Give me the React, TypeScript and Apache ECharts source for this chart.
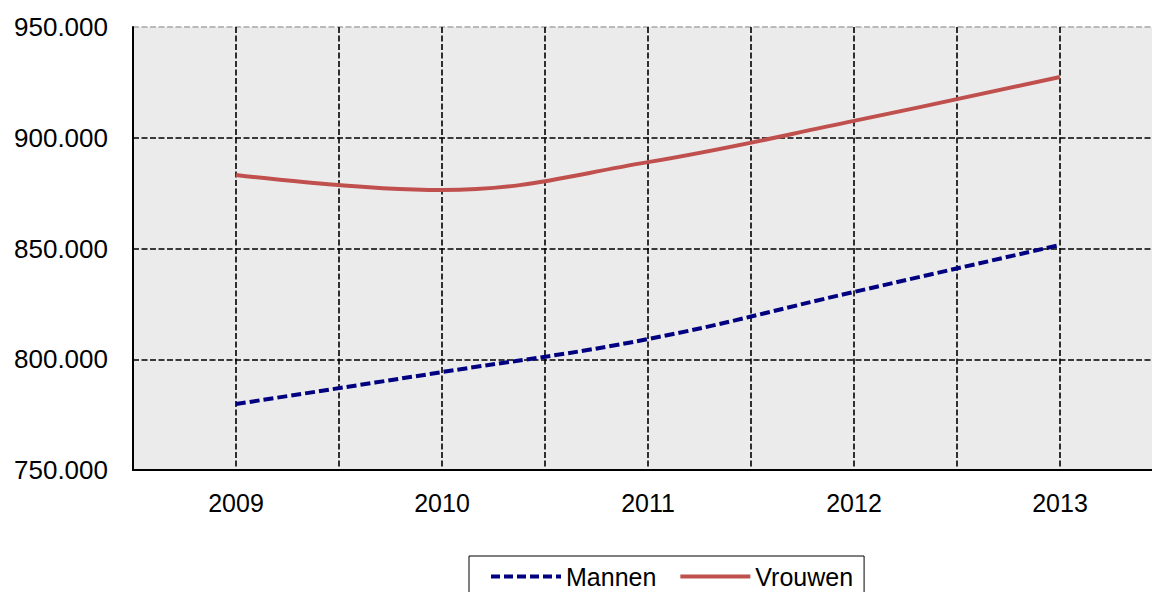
import React, { useEffect, useRef } from "react";
import * as echarts from "echarts";

const years = [2009, 2010, 2011, 2012, 2013];
const mannen = [779800, 794200, 809100, 830400, 851600];
const vrouwen = [883200, 876400, 889000, 907600, 927400];
const seriesNames = ["Mannen", "Vrouwen"];

const fmt = (v: number) => {
  const s = Math.round(v).toString();
  return s.replace(/\B(?=(\d{3})+(?!\d))/g, ".");
};

export default function App() {
  const ref = useRef<HTMLDivElement>(null);
  useEffect(() => {
    if (!ref.current) return;
    const chart = echarts.init(ref.current, null, { renderer: "svg" });
    const font = "Liberation Sans, Arial, sans-serif";
    chart.setOption({
      animation: false,
      textStyle: { fontFamily: font },
      grid: {
        left: 133,
        top: 27,
        height: 443,
        width: 1030,
        show: true,
        backgroundColor: "#ebebeb",
        borderWidth: 0,
        outerBoundsMode: "none",
      },
      legend: {
        data: [
          { name: seriesNames[0], lineStyle: { width: 4, type: [9, 4] } },
          { name: seriesNames[1], lineStyle: { width: 4 } },
        ],
        left: 469,
        top: 556,
        width: 393,
        borderColor: "#000",
        borderWidth: 1,
        borderRadius: 0,
        padding: [8, 11, 20, 20],
        itemWidth: 70,
        itemHeight: 14,
        itemGap: 22,
        itemStyle: { opacity: 0 },
        textStyle: { fontSize: 25, color: "#000", fontFamily: font },
      },
      xAxis: {
        type: "value",
        min: 2008.5,
        max: 2013.5,
        interval: 0.5,
        axisLine: { show: true, lineStyle: { color: "#000", width: 2 } },
        axisTick: { show: false },
        axisLabel: {
          fontSize: 25,
          color: "#000",
          margin: 20,
          fontFamily: font,
          formatter: (v: number) => (Number.isInteger(v) ? String(v) : ""),
          showMinLabel: true,
          showMaxLabel: true,
        },
        splitLine: {
          show: true,
          lineStyle: { color: "#000", type: [6, 2.5], width: 1.6 },
        },
      },
      yAxis: {
        type: "value",
        min: 750000,
        max: 950000,
        interval: 50000,
        axisLine: { show: true, lineStyle: { color: "#000", width: 2 } },
        axisTick: { show: false },
        axisLabel: {
          fontSize: 26,
          color: "#000",
          margin: 25,
          fontFamily: font,
          formatter: (v: number) => fmt(v),
        },
        splitLine: {
          show: true,
          lineStyle: {
            color: ["#000", "#000", "#000", "#000", "#a8a8a8"],
            type: [6, 2.5],
            width: 1.6,
          },
        },
      },
      series: [
        {
          name: seriesNames[0],
          type: "line",
          data: years.map((y, i) => [y, mannen[i]]),
          smooth: 0.4,
          symbol: "none",
          lineStyle: { color: "#000080", width: 4, type: [10, 4] },
          itemStyle: { color: "#000080" },
        },
        {
          name: seriesNames[1],
          type: "line",
          data: years.map((y, i) => [y, vrouwen[i]]),
          smooth: 0.4,
          symbol: "none",
          lineStyle: { color: "#c0504d", width: 4 },
          itemStyle: { color: "#c0504d" },
        },
      ],
    });
    return () => chart.dispose();
  }, []);
  return (
    <div
      style={{
        position: "absolute",
        left: 0,
        top: 0,
        width: 1152,
        height: 592,
        overflow: "hidden",
      }}
    >
      <div ref={ref} style={{ width: 1200, height: 592 }} />
    </div>
  );
}
